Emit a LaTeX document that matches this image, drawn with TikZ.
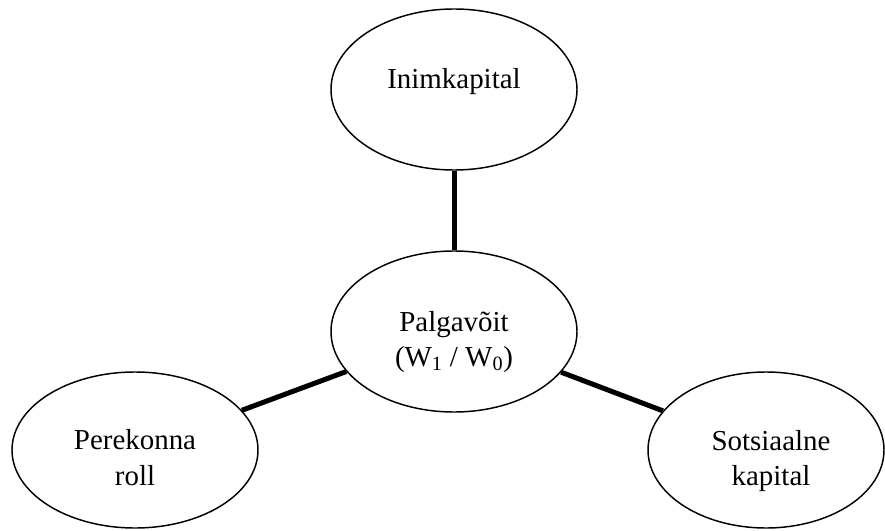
\documentclass[tikz,border=0pt]{standalone}
\usepackage{fontspec}
\setmainfont{Liberation Serif}
\usetikzlibrary{shapes.geometric}
\begin{document}
\begin{tikzpicture}[x=0.75pt,y=-0.75pt,
  bubble/.style={ellipse,draw,line width=1.1pt,inner sep=0pt,minimum width=184.5pt,minimum height=120.75pt},
  link/.style={line width=3.75pt},
  txt/.style={anchor=base,align=center,inner sep=0pt,font=\fontsize{21.7}{26.6}\selectfont}]
\useasboundingbox (0,0) rectangle (885,531);
\node[bubble] (hc) at (454,89.5) {};
\node[bubble] (wg) at (454,331.5) {};
\node[bubble,minimum height=117pt] (fr) at (135,450) {};
\node[bubble,minimum width=177pt,minimum height=117pt] (sc) at (766,450) {};
\draw[link] (hc) -- (wg);
\draw[link] (fr) -- (wg);
\draw[link] (wg) -- (sc);
\node[txt] (thc) at (454,89) {Inimkapital};
\node[txt] (twg) at (454,366.5) {Palgavõit\\(W\textsubscript{1} / W\textsubscript{0})};
\node[txt] (tfr) at (135,485) {Perekonna\\roll};
\node[txt] (tsc) at (771,485.5) {Sotsiaalne\\kapital};
\end{tikzpicture}
\end{document}
